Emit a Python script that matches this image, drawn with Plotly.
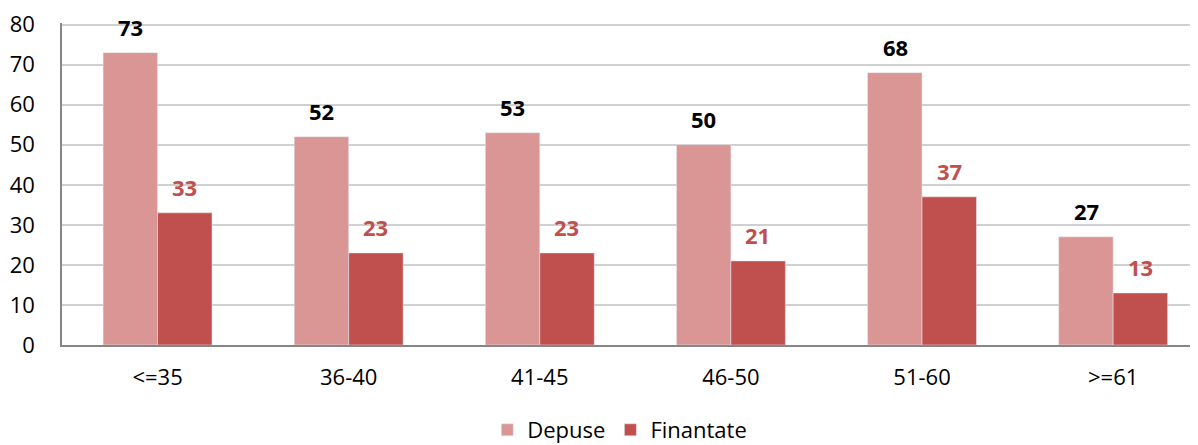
import plotly.graph_objects as go

categories = ["<=35", "36-40", "41-45", "46-50", "51-60", ">=61"]
depuse = [73, 52, 53, 50, 68, 27]
finantate = [33, 23, 23, 21, 37, 13]
y_ticks = [0, 10, 20, 30, 40, 50, 60, 70, 80]

C_DEP = "#D99694"
C_FIN = "#C0504D"
FONT = "Open Sans, Noto Sans, sans-serif"

fig = go.Figure()
fig.add_trace(go.Bar(name="Depuse", x=categories, y=depuse, marker_color=C_DEP))
fig.add_trace(go.Bar(name="Finantate", x=categories, y=finantate, marker_color=C_FIN))

annotations = []
for c, d, f in zip(categories, depuse, finantate):
    annotations.append(dict(x=c, y=d, xref="x", yref="y", text=str(d), showarrow=False,
                            xshift=-27, yshift=26, yanchor="middle",
                            font=dict(family=FONT, size=22, color="#000000", weight="bold")))
    annotations.append(dict(x=c, y=f, xref="x", yref="y", text=str(f), showarrow=False,
                            xshift=27, yshift=26, yanchor="middle",
                            font=dict(family=FONT, size=22, color=C_FIN, weight="bold")))

fig.update_layout(
    width=1190, height=437,
    margin=dict(l=54, r=0, t=15.4, b=100, autoexpand=False),
    paper_bgcolor="white", plot_bgcolor="white",
    barmode="group", bargap=0.43, bargroupgap=0,
    font=dict(family=FONT, size=22, color="#000000"),
    showlegend=True,
    legend=dict(orientation="h", x=0.491, xanchor="center", y=-0.264, yanchor="middle",
                font=dict(family=FONT, size=22), itemwidth=30, traceorder="normal"),
    annotations=annotations,
    xaxis=dict(range=[-0.5, 5.444], showline=True, linecolor="#868686", linewidth=1.5,
               ticks="", showgrid=False, tickfont=dict(size=22), ticklabelstandoff=12),
    yaxis=dict(range=[0, 80.4], tickvals=y_ticks, showgrid=True, gridcolor="#D0D0D0", gridwidth=1.5,
               showline=True, linecolor="#868686", linewidth=1.5, ticks="",
               tickfont=dict(size=22), zeroline=False, ticklabelstandoff=21,
               ticklabeloverflow="allow"),
)

fig.write_html("out.html")
